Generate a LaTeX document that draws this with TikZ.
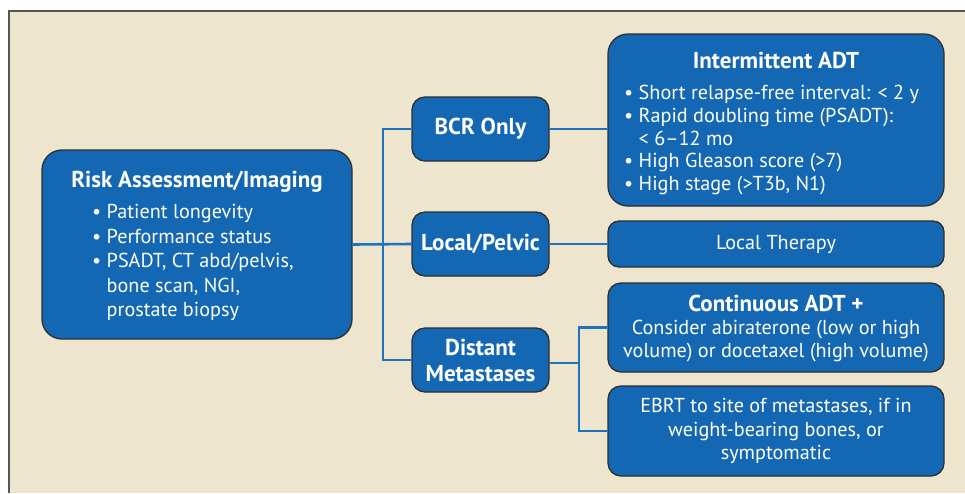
\documentclass[tikz,border=0pt]{standalone}
\usepackage{fontspec}
\setmainfont{PT Sans}
\definecolor{bg}{HTML}{EDE5CE}
\definecolor{frame}{HTML}{5A5552}
\definecolor{boxblue}{HTML}{1467B3}
\definecolor{boxline}{HTML}{2F2F2F}
\definecolor{linkblue}{HTML}{1F72BE}
\begin{document}
\begin{tikzpicture}[x=1pt,y=-1pt,
  box/.style={draw=boxline, line width=1.3pt, fill=boxblue, inner sep=0pt},
  link/.style={draw=linkblue, line width=2.6pt},
  head/.style={text=white, font=\fontsize{23}{26}\selectfont\bfseries, inner sep=0pt, align=center},
  body/.style={text=white, font=\fontsize{20.2}{23.7}\selectfont, inner sep=0pt},
  bodyc/.style={body, align=center},
  bodyl/.style={body, align=left, anchor=north west}]
\path[use as bounding box] (0,0) rectangle (965,493);
\fill[white] (0,0) rectangle (965,493);
\fill[bg] (8.5,10.5) rectangle (965,493);
\draw[frame, line width=2pt] (8.5,493) -- (8.5,10.5) -- (965,10.5);

% boxes
\node[box, rounded corners=20pt, minimum width=310pt, minimum height=189pt] (risk) at (197,244.5) {};
\node[box, rounded corners=13pt, minimum width=137pt, minimum height=64pt] (bcr) at (480.5,129) {};
\node[box, rounded corners=13pt, minimum width=137pt, minimum height=64pt] (local) at (480.5,244) {};
\node[box, rounded corners=13pt, minimum width=137pt, minimum height=64pt] (dist) at (480.5,360) {};
\node[box, rounded corners=20pt, minimum width=336pt, minimum height=172pt] (inter) at (776,120) {};
\node[box, rounded corners=11pt, minimum width=336pt, minimum height=46pt] (lt) at (776,244) {};
\node[box, rounded corners=13pt, minimum width=336pt, minimum height=89pt] (cont) at (776,327.5) {};
\node[box, rounded corners=13pt, minimum width=336pt, minimum height=90pt] (ebrt) at (776,431) {};

% connectors
\coordinate (j1) at (383,244);
\coordinate (j2) at (579,363);
\draw[link] (bcr.west) -| (j1) |- (dist.west);
\draw[link] (risk.east) -- (local.west);
\draw[link] (bcr.east) -- (bcr.east -| inter.west);
\draw[link] (local.east) -- (lt.west);
\draw[link] ([yshift=-3pt]dist.east) -- (j2);
\draw[link] (cont.west) -| (j2) |- (ebrt.west);

% texts
\node[head] (riskt) at (197,182) {Risk Assessment/Imaging};
\node[bodyl, font=\fontsize{20.2}{24.5}\selectfont] (riskb) at (92,204) {• Patient longevity\\ • Performance status\\ • PSADT, CT abd/pelvis,\\ \hphantom{• }bone scan, NGI,\\ \hphantom{• }prostate biopsy};
\node[head] (bcrt) at (480.5,129) {BCR Only};
\node[head] (localt) at (480.5,244) {Local/Pelvic};
\node[head] (distt) at (480.5,360) {Distant\\Metastases};
\node[head] (intert) at (776,60) {Intermittent ADT};
\node[bodyl, font=\fontsize{20.2}{22.8}\selectfont] (interb) at (624,85) {• Short relapse-free interval: < 2 y\\ • Rapid doubling time (PSADT):\\ \hphantom{• }< 6–12 mo\\ • High Gleason score (>7)\\ • High stage (>T3b, N1)};
\node[bodyc] (ltt) at (776,244) {Local Therapy};
\node[head] (contt) at (776,303) {Continuous ADT +};
\node[bodyc] (contb) at (776,341) {Consider abiraterone (low or high\\volume) or docetaxel (high volume)};
\node[bodyc] (ebrtt) at (776,431) {EBRT to site of metastases, if in\\weight-bearing bones, or\\symptomatic};
\end{tikzpicture}
\end{document}
